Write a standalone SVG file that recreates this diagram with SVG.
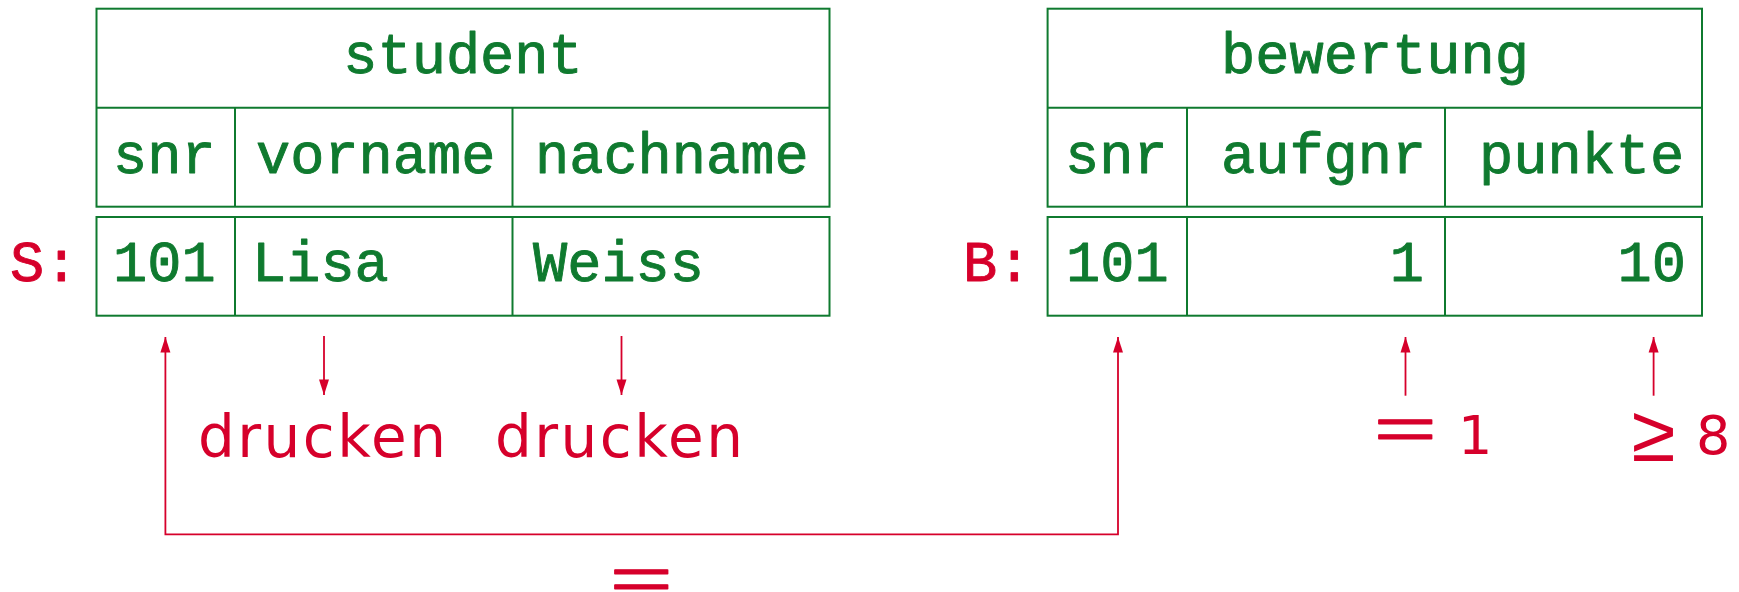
<svg xmlns="http://www.w3.org/2000/svg" width="1739" height="592" viewBox="0 0 1739 592">
<style>
.tb{fill:none;stroke:#0f7a2f;stroke-width:2}
.tt{font-family:"Liberation Mono","Courier New",monospace;font-size:57px;fill:#0f7a2f;stroke:#0f7a2f;stroke-width:0.9;stroke-linejoin:round}
.lab{font-family:"Liberation Mono","Courier New",monospace;font-size:57px;fill:#d6002b;stroke:#d6002b;stroke-width:0.9;stroke-linejoin:round}
.cn{fill:none;stroke:#d6002b;stroke-width:1.8}
.rs{font-family:"DejaVu Sans",sans-serif;font-size:58px;fill:#d6002b}
.rd{font-family:"DejaVu Sans",sans-serif;font-size:54px;fill:#d6002b}
.eq{font-family:"Liberation Sans",Arial,sans-serif;font-size:60px;fill:#d6002b;stroke:#d6002b;stroke-width:1;stroke-linejoin:round}
.ge{font-family:"Liberation Sans",Arial,sans-serif;font-size:80px;fill:#d6002b}
</style>
<defs>
<marker id="ah" viewBox="-16 -6 17 12" refX="0" refY="0" markerWidth="17" markerHeight="12" markerUnits="userSpaceOnUse" orient="auto-start-reverse">
<path d="M0,0 L-15.5,-5 L-15.5,5 Z" fill="#d6002b"/>
</marker>
</defs>
<rect width="1739" height="592" fill="#fff"/>
<g id="student">
<rect class="tb" x="96.5" y="8.7" width="733" height="198"/>
<line class="tb" x1="96.5" y1="107.7" x2="829.5" y2="107.7"/>
<line class="tb" x1="235" y1="107.7" x2="235" y2="206.7"/>
<line class="tb" x1="512.5" y1="107.7" x2="512.5" y2="206.7"/>
<rect class="tb" x="96.5" y="217" width="733" height="98.7"/>
<line class="tb" x1="235" y1="217" x2="235" y2="315.7"/>
<line class="tb" x1="512.5" y1="217" x2="512.5" y2="315.7"/>
<text class="tt" x="463" y="72.5" text-anchor="middle">student</text>
<text class="tt" x="113" y="172.5">snr</text>
<text class="tt" x="256" y="172.5">vorname</text>
<text class="tt" x="535" y="172.5">nachname</text>
<text class="tt" x="113" y="281">101</text>
<text class="tt" x="252" y="281">Lisa</text>
<text class="tt" x="533" y="281">Weiss</text>
<text class="lab" x="10" y="281">S:</text>
</g>
<g id="bewertung">
<rect class="tb" x="1047.6" y="8.7" width="654.4" height="198"/>
<line class="tb" x1="1047.6" y1="107.7" x2="1702" y2="107.7"/>
<line class="tb" x1="1187" y1="107.7" x2="1187" y2="206.7"/>
<line class="tb" x1="1445" y1="107.7" x2="1445" y2="206.7"/>
<rect class="tb" x="1047.6" y="217" width="654.4" height="98.7"/>
<line class="tb" x1="1187" y1="217" x2="1187" y2="315.7"/>
<line class="tb" x1="1445" y1="217" x2="1445" y2="315.7"/>
<text class="tt" x="1375" y="72.5" text-anchor="middle">bewertung</text>
<text class="tt" x="1065" y="172.5">snr</text>
<text class="tt" x="1221" y="172.5">aufgnr</text>
<text class="tt" x="1479" y="172.5">punkte</text>
<text class="tt" x="1066" y="281">101</text>
<text class="tt" x="1424" y="281" text-anchor="end">1</text>
<text class="tt" x="1686" y="281" text-anchor="end">10</text>
<text class="lab" x="963" y="281">B:</text>
</g>
<g id="connectors">
<path class="cn" d="M165.4,337 V534.3 H1118 V337" marker-start="url(#ah)" marker-end="url(#ah)"/>
<line class="cn" x1="324" y1="336" x2="324" y2="395" marker-end="url(#ah)"/>
<line class="cn" x1="621.5" y1="336" x2="621.5" y2="395" marker-end="url(#ah)"/>
<line class="cn" x1="1405.5" y1="395.7" x2="1405.5" y2="337" marker-end="url(#ah)"/>
<line class="cn" x1="1653.6" y1="395.7" x2="1653.6" y2="337" marker-end="url(#ah)"/>
</g>
<g id="labels">
<text class="rs" x="198" y="456.7" textLength="248" lengthAdjust="spacing">drucken</text>
<text class="rs" x="495" y="456.7" textLength="248" lengthAdjust="spacing">drucken</text>
<text class="eq" transform="translate(641.3,599) scale(1.8,1)" text-anchor="middle">=</text>
<text class="eq" transform="translate(1405.3,449) scale(1.8,1)" text-anchor="middle">=</text>
<text class="rd" x="1458" y="454">1</text>
<text class="ge" x="1653.6" y="461" text-anchor="middle">≥</text>
<text class="rd" x="1696" y="454">8</text>
</g>
</svg>
